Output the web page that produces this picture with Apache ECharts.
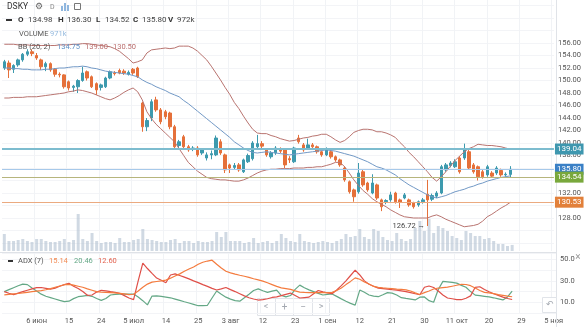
<!DOCTYPE html>
<html><head><meta charset="utf-8">
<script src="https://cdn.jsdelivr.net/npm/echarts@6/dist/echarts.min.js"></script>
<style>html,body{margin:0;padding:0;background:#fff}#c{width:584px;height:327px}</style>
</head><body><div id="c"></div>
<script>
const dates = ['05-26','05-27','05-30','05-31','06-01','06-02','06-03','06-06','06-07','06-08','06-09','06-10','06-13','06-14','06-15','06-16','06-17','06-20','06-21','06-22','06-23','06-24','06-27','06-28','06-29','06-30','07-01','07-04','07-05','07-06','07-07','07-08','07-11','07-12','07-13','07-14','07-15','07-18','07-19','07-20','07-21','07-22','07-25','07-26','07-27','07-28','07-29','08-01','08-02','08-03','08-04','08-05','08-08','08-09','08-10','08-11','08-12','08-15','08-16','08-17','08-18','08-19','08-22','08-23','08-24','08-25','08-26','08-29','08-30','08-31','09-01','09-02','09-05','09-06','09-07','09-08','09-09','09-12','09-13','09-14','09-15','09-16','09-19','09-20','09-21','09-22','09-23','09-26','09-27','09-28','09-29','09-30','10-03','10-04','10-05','10-06','10-07','10-10','10-11','10-12','10-13','10-14','10-17','10-18','10-19','10-20','10-21','10-24','10-25','10-26','10-27','10-28','10-29','10-30','10-31','11-01','11-02','11-03','11-04','11-05'];
const tickDates = ['06-06','06-15','06-24','07-05','07-14','07-25','08-03','08-12','08-23','09-01','09-12','09-21','09-30','10-11','10-20','10-29','11-05'];
const tickLabels = ['6 июн','15','24','5 июл','14','25','3 авг','12','23','1 сен','12','21','30','11 окт','20','29','5 ноя'];
const opens = [152.0,152.8,151.8,152.5,153.3,154.2,154.6,154.0,153.3,152.2,
152.7,151.8,151.0,150.9,149.8,148.9,149.0,150.0,151.4,150.6,
149.5,148.9,149.0,150.4,151.2,151.6,151.5,151.0,151.8,152.0,
146.4,142.6,144.0,146.9,145.3,145.0,144.8,142.6,139.6,141.0,
139.4,139.0,139.2,138.4,137.6,138.1,138.1,140.2,138.1,136.5,
136.1,136.5,135.4,137.0,137.5,139.4,139.9,138.9,137.8,138.4,
139.0,138.9,137.5,137.0,140.8,139.7,139.2,139.7,139.4,138.6,
138.1,138.6,137.8,137.3,136.0,133.8,132.5,132.2,135.4,133.6,
132.0,133.3,130.9,130.6,130.9,132.0,130.9,131.2,130.9,130.4,
130.1,130.6,131.8,131.0,131.5,132.0,135.7,136.4,136.2,137.6,
137.6,138.6,136.5,136.2,135.4,134.9,135.2,135.2,135.6,134.9,
134.98];
const closes = [153.0,151.7,152.4,153.3,154.2,154.6,154.3,153.6,152.2,152.7,
151.7,151.0,150.9,149.0,148.8,149.1,150.0,151.2,150.4,149.0,
148.5,149.3,150.4,151.4,151.1,151.2,151.2,151.3,151.2,150.6,
142.6,143.6,146.6,145.3,143.4,144.2,142.6,139.4,140.2,139.4,
138.9,139.2,138.1,138.9,138.1,138.3,140.8,138.4,135.7,136.0,
136.4,135.7,137.3,138.0,140.0,139.9,139.5,138.1,138.4,139.2,
138.7,136.5,137.3,139.2,140.2,138.9,139.7,139.4,138.6,138.1,
139.0,137.8,137.3,136.5,134.1,132.2,131.4,135.2,133.3,132.5,
133.6,131.2,129.8,130.8,131.7,130.6,130.5,131.7,130.1,129.8,
130.6,130.9,130.9,131.6,132.0,136.2,136.5,136.8,137.0,135.4,
138.9,136.0,135.4,134.6,134.6,136.2,134.7,136.0,134.9,135.0,
135.80];
const lows = [151.7,150.4,151.2,152.2,153.0,153.9,153.9,153.3,151.7,151.5,
151.4,150.6,150.5,148.7,148.4,148.2,148.0,149.8,150.0,148.8,
147.7,148.4,148.8,150.2,150.8,151.0,150.9,150.8,150.9,150.4,
141.8,141.9,143.5,145.0,143.0,143.8,142.2,138.9,139.2,139.0,
138.6,138.7,137.8,138.1,137.2,137.4,137.9,138.1,135.2,135.2,
135.8,135.4,135.2,136.8,137.2,139.1,139.2,137.8,137.5,138.1,
138.4,136.0,136.8,136.8,139.9,138.6,139.0,139.1,138.3,137.8,
137.9,137.5,137.0,136.2,133.8,131.9,130.6,131.9,133.0,132.2,
131.8,130.9,129.1,130.2,130.6,130.3,129.6,131.0,129.8,129.5,
129.8,130.3,126.72,130.7,131.2,131.8,135.4,136.1,136.0,135.1,
137.3,135.8,135.1,134.0,134.3,134.6,134.4,134.9,134.6,134.6,
134.52];
const highs = [153.3,153.2,152.6,153.5,154.4,155.0,155.0,154.4,153.5,153.0,
152.9,152.0,151.3,151.0,150.0,149.3,150.2,152.2,151.6,150.8,
149.7,149.5,150.6,151.6,151.5,151.9,151.8,151.6,152.0,152.2,
146.6,144.0,147.0,147.4,145.6,145.3,145.0,142.9,140.5,141.3,
139.7,139.5,139.5,139.2,138.5,138.8,141.2,140.6,138.3,136.7,
136.8,136.8,137.5,138.3,140.3,141.3,140.3,139.2,138.7,139.5,
139.3,139.1,137.9,139.4,141.3,140.0,140.7,140.0,139.6,138.8,
139.3,138.9,138.0,137.5,136.3,134.0,132.7,136.8,135.7,133.8,
135.0,133.5,131.1,131.0,132.2,132.2,131.1,132.0,131.1,130.6,
130.8,131.2,134.1,131.9,132.3,136.5,136.8,137.1,137.4,137.9,
139.9,138.9,136.8,136.4,135.7,136.5,135.5,136.3,135.9,135.3,
136.30];
const volumes = [2720,1600,1600,1760,1920,1600,1440,1920,1920,1600,
1440,1440,1600,1920,1440,1760,5920,1920,1600,2880,
1600,1280,1440,1440,1280,2080,1440,1440,1760,1920,
3520,1920,1760,1600,1440,1440,1760,1920,1280,1600,
1600,1280,1600,1440,1440,1600,3040,2240,3040,1600,
1600,1600,1280,1440,2080,1280,1440,1600,1280,1600,
2720,2080,1600,1440,2720,1600,1440,1280,1440,1600,
1440,1280,1600,1920,2720,2240,2400,3520,2240,1920,
3520,3200,2240,1760,1600,2880,1920,1600,1920,3680,
4800,3200,5120,2880,4000,3680,3200,2400,2080,1760,
3200,2880,2400,2400,1920,2080,1600,1120,1120,800,
971];
const bbUpper = [155.8,155.8,155.8,155.7,155.7,155.7,155.6,155.6,155.6,155.6,
155.6,155.6,155.7,155.7,155.7,155.8,155.8,155.9,155.9,155.8,
155.7,155.6,155.5,155.4,155.1,154.7,154.1,153.5,152.8,153.0,
153.3,154.4,154.9,155.0,155.1,155.2,155.1,155.2,155.5,155.5,
155.5,155.2,154.7,154.0,153.3,152.3,151.2,150.1,148.9,147.8,
146.5,145.5,144.3,143.2,142.2,141.6,141.5,141.5,141.2,141.0,
140.7,140.5,140.3,140.4,140.6,140.8,140.9,141.1,141.2,141.4,
141.4,141.0,140.5,140.1,140.4,141.0,141.7,142.0,142.2,142.2,
142.1,141.8,141.8,141.6,141.3,140.9,140.1,139.4,138.5,137.8,
137.0,136.2,135.4,134.5,133.9,134.6,135.4,136.3,137.2,137.9,
138.6,139.1,139.4,139.8,139.7,139.6,139.6,139.5,139.4,139.2,
139.00];
const bbBasis = [152.0,152.0,151.9,151.9,151.8,151.8,151.7,151.7,151.7,151.8,
151.8,151.9,152.0,152.0,152.1,152.2,152.2,152.3,152.2,152.0,
151.9,151.7,151.5,151.4,151.3,151.2,151.1,151.0,150.8,150.6,
150.1,149.7,149.4,149.0,148.7,148.4,148.0,147.7,147.4,146.8,
146.3,145.7,145.1,144.5,143.9,143.3,142.7,142.1,141.5,140.9,
140.2,139.7,139.2,138.8,138.5,138.4,138.5,138.6,138.5,138.4,
138.3,138.2,138.1,138.2,138.3,138.4,138.5,138.6,138.7,138.8,
138.9,138.8,138.7,138.5,138.3,138.1,137.9,137.6,137.3,137.0,
136.6,136.2,136.0,135.7,135.3,134.9,134.3,133.8,133.3,132.9,
132.5,132.1,131.7,131.4,131.2,131.4,131.6,131.9,132.2,132.4,
132.6,132.9,133.1,133.4,133.6,133.9,134.1,134.3,134.5,134.6,
134.75];
const bbLower = [147.2,147.2,147.3,147.3,147.3,147.4,147.4,147.4,147.5,147.6,
147.7,147.8,147.9,148.0,148.2,148.3,148.5,148.4,148.2,148.0,
147.7,147.4,147.1,146.9,147.2,147.6,148.1,148.5,148.8,148.2,
146.9,145.0,143.9,143.0,142.3,141.6,140.9,140.2,139.1,138.0,
136.9,136.2,135.5,135.0,134.5,134.3,134.2,134.1,134.1,134.0,
133.9,133.9,134.1,134.4,134.8,135.2,135.5,135.7,135.8,135.8,
135.9,135.9,135.9,136.0,136.0,136.0,136.1,136.1,136.2,136.2,
136.4,136.6,136.9,136.9,136.2,135.2,134.1,133.2,132.4,131.8,
131.1,130.6,130.2,129.8,129.3,128.9,128.5,128.2,128.1,128.0,
128.0,128.0,128.0,128.3,128.5,128.2,127.8,127.5,127.2,126.9,
126.6,126.7,126.8,127.0,127.5,128.2,128.6,129.1,129.6,130.0,
130.50];
const adx = [17.0,17.4,17.8,18.2,18.7,19.3,19.9,20.4,20.9,21.7,
22.8,24.0,25.2,26.4,26.8,26.0,25.0,24.0,22.5,21.2,
19.9,19.4,19.2,19.0,18.7,18.3,17.8,17.2,17.5,20.5,
24.0,27.0,28.8,29.4,30.0,30.7,32.5,34.5,36.5,39.0,
41.0,43.0,45.5,47.4,48.5,49.3,45.5,42.0,39.0,37.5,
36.3,35.2,34.3,33.2,32.0,30.9,29.8,28.2,26.5,24.8,
23.5,22.8,22.1,20.6,19.5,19.2,19.0,19.0,19.0,19.0,
19.0,19.2,21.0,23.3,26.5,29.5,32.8,31.5,29.0,27.0,
24.8,24.0,23.5,23.1,22.7,22.3,22.0,21.6,20.5,18.8,
17.3,19.0,20.5,22.4,23.3,23.7,24.1,25.0,25.9,26.8,
26.6,25.5,23.4,21.0,19.3,18.7,18.1,17.2,16.5,15.8,
15.14];
const plusDI = [20.0,21.8,23.6,25.4,27.0,26.5,23.3,20.6,17.6,15.6,
14.4,13.1,11.8,10.6,11.0,13.4,15.2,15.8,16.4,15.6,
13.5,11.8,13.5,16.8,17.3,17.7,17.7,17.7,17.7,15.0,
11.5,7.6,15.8,16.0,15.5,14.9,14.2,13.0,11.8,10.5,
9.3,8.1,6.8,6.8,7.2,14.0,20.5,17.5,14.8,13.0,
11.5,11.0,14.2,17.5,21.0,22.5,20.8,19.3,20.4,21.4,
16.3,15.0,16.3,22.0,26.0,23.5,21.6,20.0,18.3,16.8,
17.3,17.8,15.5,13.2,11.0,9.0,7.4,21.4,19.3,16.8,
15.8,15.2,17.0,19.0,18.5,16.8,14.3,13.6,13.0,12.2,
14.8,15.0,11.5,10.0,22.0,29.5,29.0,28.5,27.9,25.8,
24.0,20.0,16.7,16.2,15.6,15.0,14.2,13.2,12.2,15.0,
20.46];
const minusDI = [20.0,18.4,17.2,18.6,19.9,21.2,22.5,23.7,23.8,23.0,
22.2,23.2,25.0,26.5,27.7,25.0,22.8,20.0,16.5,16.8,
19.5,21.2,20.6,19.9,19.3,18.4,16.2,14.0,12.5,30.0,
46.5,41.5,37.0,32.6,30.5,28.2,35.5,36.5,35.0,33.5,
31.8,30.0,28.3,26.5,24.8,23.0,21.5,22.5,23.8,21.8,
20.0,18.0,16.0,14.2,13.1,12.1,12.5,13.3,14.5,15.0,
16.2,17.4,18.6,16.3,14.0,14.4,14.8,18.0,21.0,19.7,
18.8,18.0,21.5,25.5,30.0,35.0,40.0,35.5,30.0,26.8,
25.0,23.2,22.8,22.3,21.8,21.4,20.7,20.0,19.0,18.0,
17.0,24.0,25.2,23.8,20.5,16.8,14.0,13.3,12.5,12.4,
13.8,16.0,24.0,24.5,22.0,19.8,18.0,16.5,14.8,13.5,
12.60];
const priceLineValues = [139.04, 135.80, 134.54, 130.53];
const priceTicks = [128, 156];
const adxTicks = [10, 30, 50];
const lowMarkValue = 126.72;

const LINE_STYLES = [
  {line:'#7dbccf', width:2, tag:'#3e97af'},
  {line:'#a7c9ea', width:1, tag:'#3a80c6'},
  {line:'#b7b57c', width:1, tag:'#79a83c'},
  {line:'#ebaa80', width:1, tag:'#e2803a'}
];
const tickSet = {};
tickDates.forEach((d,i)=>{tickSet[d]=tickLabels[i];});
const isTick = (idx,val)=> tickSet[val]!==undefined;
const ohlc = opens.map((o,i)=>[o, closes[i], lows[i], highs[i]]);
const lowIdx = lows.indexOf(lowMarkValue);
const FONT = 'Roboto, "Liberation Sans", sans-serif';
const GRID = {left:2, right:28};

const chart = echarts.init(document.getElementById('c'), null, {renderer:'canvas'});

function T(x,y,text,fill,size,weight,align){
  return {type:'text', x:x, y:y, silent:true, z:100,
    style:{text:text, fill:fill, fontSize:size||8, fontWeight:weight||'normal', fontFamily:FONT,
      verticalAlign:'middle', align:align||'left'}};
}
const graphics = [
  {type:'line', silent:true, z:1, shape:{x1:556.5,y1:0,x2:556.5,y2:327}, style:{stroke:'#e0e3e8',lineWidth:1}},
  {type:'line', silent:true, z:1, shape:{x1:0,y1:252.5,x2:556,y2:252.5}, style:{stroke:'#dfe2e7',lineWidth:1}},
  T(7,7,'DSKY','#333',8.5),
  T(35,7,'⚙','#666',9),
  T(50,7.5,'D','#888',7),
  {type:'rect', silent:true, z:100, shape:{x:61,y:6,width:2,height:5}, style:{fill:'#8fb6de'}},
  {type:'rect', silent:true, z:100, shape:{x:64,y:3,width:2,height:8}, style:{fill:'#8fb6de'}},
  {type:'rect', silent:true, z:100, shape:{x:67,y:5,width:2,height:6}, style:{fill:'#8fb6de'}},
  {type:'rect', silent:true, z:100, shape:{x:74.5,y:3.5,width:6,height:6}, style:{fill:'none',stroke:'#777',lineWidth:1}},
  {type:'rect', silent:true, z:100, shape:{x:6,y:19,width:6,height:2}, style:{fill:'#333'}},
  T(18,20,'O','#333',8,'bold'), T(28,20,'134.98','#444',8),
  T(58,20,'H','#333',8,'bold'), T(67,20,'136.30','#444',8),
  T(96,20,'L','#333',8,'bold'), T(105,20,'134.52','#444',8),
  T(133,20,'C','#333',8,'bold'), T(142,20,'135.80','#444',8),
  T(168,20,'V','#333',8,'bold'), T(177,20,'972k','#444',8),
  T(19,34,'VOLUME','#555',7.5), T(50,34,'971k','#94b9de',7.5),
  T(18,47,'BB (20, 2)','#555',7.5), T(57,47,'134.75','#5b8ec4',7.5),
  T(85,47,'139.00','#b86b6b',7.5), T(113,47,'130.50','#b86b6b',7.5),
  {type:'rect', silent:true, z:100, shape:{x:8,y:260,width:5,height:2}, style:{fill:'#333'}},
  T(18,261,'ADX (7)','#555',7.5), T(49,261,'15.14','#f28a52',7.5),
  T(74,261,'20.46','#64a886',7.5), T(98,261,'12.60','#e2624f',7.5),
  T(578,257,'×','#999',10,'normal','center'),
  {type:'rect', silent:true, z:-1, shape:{x:257.5,y:298.5,width:72,height:17}, style:{fill:'rgba(255,255,255,0.92)',stroke:'#e1e4e9',lineWidth:1}},
  {type:'line', silent:true, z:-1, shape:{x1:275.5,y1:299,x2:275.5,y2:315}, style:{stroke:'#e1e4e9'}},
  {type:'line', silent:true, z:-1, shape:{x1:293.5,y1:299,x2:293.5,y2:315}, style:{stroke:'#e1e4e9'}},
  {type:'line', silent:true, z:-1, shape:{x1:312.5,y1:299,x2:312.5,y2:315}, style:{stroke:'#e1e4e9'}},
  T(266,307,'<','#a3a8b0',9,'normal','center'),
  T(284.5,307,'+','#a3a8b0',10,'normal','center'),
  T(303,307,'−','#a3a8b0',10,'normal','center'),
  T(321,307,'>','#a3a8b0',9,'normal','center'),
  {type:'rect', silent:true, z:100, shape:{x:542.5,y:297.5,width:14,height:15}, style:{fill:'rgba(255,255,255,0.92)',stroke:'#e1e4e9',lineWidth:1}},
  T(549.5,305,'↶','#a3a8b0',9,'normal','center')
];

const option = {
  animation:false,
  backgroundColor:'#ffffff',
  textStyle:{fontFamily:FONT},
  grid:[
    {left:GRID.left, right:GRID.right, top:5.5, height:237.5},
    {left:GRID.left, right:GRID.right, top:0, height:251},
    {left:GRID.left, right:GRID.right, top:253, height:60}
  ],
  xAxis:[
    {type:'category', gridIndex:0, data:dates, show:false},
    {type:'category', gridIndex:1, data:dates, axisLine:{show:false}, axisTick:{show:false}, axisLabel:{show:false},
      splitLine:{show:true, interval:isTick, lineStyle:{color:'#f1f3f6', width:1}}},
    {type:'category', gridIndex:2, data:dates, axisLine:{show:false}, axisTick:{show:false},
      axisLabel:{show:true, interval:isTick, formatter:v=>tickSet[v]||'', fontSize:7.5, color:'#555', margin:4, fontFamily:FONT},
      splitLine:{show:true, interval:isTick, lineStyle:{color:'#f1f3f6', width:1}}}
  ],
  yAxis:[
    {type:'value', gridIndex:0, position:'right', min:124, max:162, interval:2,
      axisLine:{show:false}, axisTick:{show:false},
      axisLabel:{fontSize:7.5, color:'#555', margin:4, fontFamily:FONT,
        formatter:v=> (v>=priceTicks[0] && v<=priceTicks[1]) ? v.toFixed(2) : ''},
      splitLine:{show:true, lineStyle:{color:'#f3f4f7', width:1}}},
    {type:'value', gridIndex:1, min:0, max:40160, show:false, splitLine:{show:false}},
    {type:'value', gridIndex:2, position:'right', min:0, max:56, interval:10,
      axisLine:{show:false}, axisTick:{show:false},
      axisLabel:{fontSize:7.5, color:'#555', margin:4, fontFamily:FONT,
        formatter:v=> adxTicks.indexOf(v)>=0 ? v.toFixed(1) : ''},
      splitLine:{show:true, lineStyle:{color:'#f3f4f7', width:1}}}
  ],
  series:[
    {type:'bar', name:'Volume', xAxisIndex:1, yAxisIndex:1, data:volumes, barWidth:3, silent:true,
      itemStyle:{color:'rgba(176,192,208,0.6)'}},
    {type:'line', name:'BB upper', xAxisIndex:0, yAxisIndex:0, data:bbUpper, symbol:'none', silent:true,
      lineStyle:{color:'#b97470', width:1}},
    {type:'line', name:'BB basis', xAxisIndex:0, yAxisIndex:0, data:bbBasis, symbol:'none', silent:true,
      lineStyle:{color:'#7299c6', width:1}},
    {type:'line', name:'BB lower', xAxisIndex:0, yAxisIndex:0, data:bbLower, symbol:'none', silent:true,
      lineStyle:{color:'#b97470', width:1}},
    {type:'candlestick', name:'DSKY', xAxisIndex:0, yAxisIndex:0, data:ohlc, barWidth:3, silent:true,
      itemStyle:{color:'#3d9aae', color0:'#e5703a', borderColor:'#3d9aae', borderColor0:'#e5703a', borderWidth:1},
      markLine:{silent:true, symbol:['none','none'], animation:false,
        data: priceLineValues.map((v,i)=>({yAxis:v,
          lineStyle:{color:LINE_STYLES[i].line, width:LINE_STYLES[i].width, type:'solid'},
          label:{show:true, position:'end', distance:1, formatter:v.toFixed(2), color:'#fff',
            backgroundColor:LINE_STYLES[i].tag, fontSize:8, padding:[2,2,1,2], fontFamily:FONT}}))},
      markPoint:{silent:true, animation:false,
        data:[{coord:[dates[lowIdx], lowMarkValue], symbol:'circle', symbolSize:1, itemStyle:{color:'rgba(0,0,0,0)'},
          label:{show:true, position:'left', distance:2, formatter:lowMarkValue.toFixed(2)+' →', color:'#444', fontSize:7.5, fontFamily:FONT}}]}},
    {type:'line', name:'+DI', xAxisIndex:2, yAxisIndex:2, data:plusDI, symbol:'none', silent:true,
      lineStyle:{color:'#64a886', width:1.2}},
    {type:'line', name:'-DI', xAxisIndex:2, yAxisIndex:2, data:minusDI, symbol:'none', silent:true,
      lineStyle:{color:'#df4f48', width:1.2}},
    {type:'line', name:'ADX', xAxisIndex:2, yAxisIndex:2, data:adx, symbol:'none', silent:true,
      lineStyle:{color:'#f47b3e', width:1.2}}
  ],
  graphic: graphics
};
chart.setOption(option);
</script>
</body></html>
